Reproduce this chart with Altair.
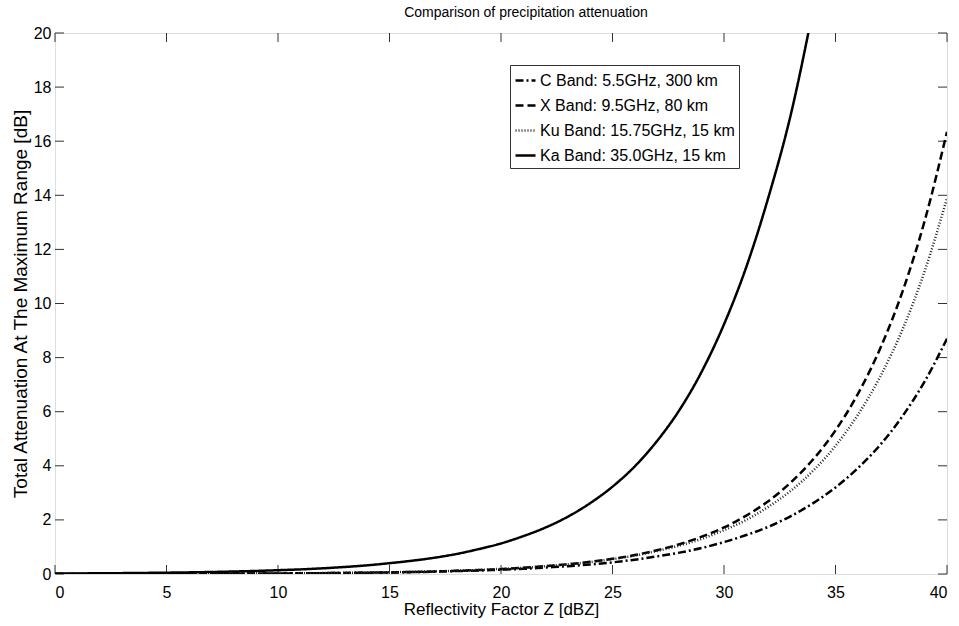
import altair as alt
import pandas as pd

bands = ["C Band: 5.5GHz, 300 km", "X Band: 9.5GHz, 80 km",
         "Ku Band: 15.75GHz, 15 km", "Ka Band: 35.0GHz, 15 km"]

dbz = list(range(0, 41))

c_band = [0.003, 0.0035, 0.004, 0.005, 0.006, 0.008, 0.009, 0.012, 0.014, 0.017,
          0.021, 0.026, 0.032, 0.039, 0.048, 0.058, 0.071, 0.087, 0.11, 0.13,
          0.16, 0.19, 0.24, 0.29, 0.35, 0.43, 0.53, 0.65, 0.79, 0.96,
          1.18, 1.44, 1.75, 2.14, 2.62, 3.20, 3.91, 4.77, 5.83, 7.12, 8.70]
x_band = [0.002, 0.002, 0.003, 0.003, 0.004, 0.005, 0.006, 0.008, 0.010, 0.015,
          0.019, 0.024, 0.030, 0.038, 0.047, 0.059, 0.074, 0.093, 0.116, 0.145,
          0.18, 0.23, 0.29, 0.36, 0.45, 0.56, 0.70, 0.88, 1.10, 1.38,
          1.72, 2.16, 2.70, 3.39, 4.24, 5.31, 6.65, 8.33, 10.43, 13.06, 16.35]
ku_band = [0.003, 0.003, 0.004, 0.005, 0.006, 0.007, 0.009, 0.011, 0.014, 0.017,
           0.021, 0.027, 0.033, 0.041, 0.051, 0.063, 0.078, 0.097, 0.12, 0.15,
           0.19, 0.23, 0.29, 0.36, 0.44, 0.55, 0.68, 0.85, 1.05, 1.30,
           1.62, 2.00, 2.49, 3.08, 3.82, 4.74, 5.88, 7.29, 9.03, 11.20, 13.89]
ka_band = [0.017, 0.021, 0.026, 0.032, 0.040, 0.049, 0.060, 0.074, 0.092, 0.113,
           0.14, 0.17, 0.21, 0.26, 0.32, 0.40, 0.49, 0.60, 0.74, 0.92,
           1.13, 1.40, 1.72, 2.12, 2.62, 3.23, 3.98, 4.92, 6.06, 7.48,
           9.23, 11.35, 13.95, 17.00, 20.90]

x_ticks = [0, 5, 10, 15, 20, 25, 30, 35, 40]
y_ticks = [0, 2, 4, 6, 8, 10, 12, 14, 16, 18, 20]

rows = []
for name, vals in zip(bands, [c_band, x_band, ku_band, ka_band]):
    for d, v in zip(dbz, vals):
        rows.append({"dBZ": d, "atten": v, "band": name})
df = pd.DataFrame(rows)
xt = pd.DataFrame({"dBZ": x_ticks})
yt = pd.DataFrame({"atten": y_ticks})

FONT = "Liberation Sans"
W, H = 892, 541

legend = alt.Legend(title=None, orient="none", legendX=455, legendY=32,
                    symbolType="stroke", symbolSize=400, labelFontSize=16,
                    labelFont=FONT, labelColor="black", strokeColor="#333",
                    fillColor="white", padding=4, rowPadding=5, labelOffset=3,
                    labelLimit=400, symbolStrokeColor="black")

xscale = alt.Scale(domain=[0, 40], nice=False, zero=False)
yscale = alt.Scale(domain=[0, 20], nice=False)

lines = alt.Chart(df).mark_line(clip=True, interpolate="monotone").encode(
    x=alt.X("dBZ:Q", scale=xscale,
            axis=alt.Axis(values=x_ticks, tickSize=0, domain=False, grid=False,
                          labelPadding=10, labelFontSize=16, labelFont=FONT,
                          labelColor="black", title="Reflectivity Factor Z [dBZ]",
                          titleFontSize=17, titleFont=FONT, titleFontWeight="normal",
                          titleColor="black", titlePadding=1)),
    y=alt.Y("atten:Q", scale=yscale,
            axis=alt.Axis(values=y_ticks, tickSize=0, domain=False, grid=False,
                          labelPadding=4, labelFontSize=16, labelFont=FONT,
                          labelColor="black",
                          title="Total Attenuation At The Maximum Range [dB]",
                          titleFontSize=19, titleFont=FONT, titleFontWeight="normal",
                          titleColor="black", titlePadding=3)),
    color=alt.Color("band:N", sort=bands,
                    scale=alt.Scale(domain=bands, range=["black", "black", "#222", "black"]),
                    legend=legend),
    strokeDash=alt.StrokeDash("band:N", sort=bands,
                              scale=alt.Scale(domain=bands,
                                              range=[[8, 3, 2, 3], [8, 4], [1, 2], [1, 0]]),
                              legend=legend),
    strokeWidth=alt.StrokeWidth("band:N", sort=bands,
                                scale=alt.Scale(domain=bands, range=[2.5, 2.5, 1, 2.5]),
                                legend=legend),
)

tick_color = "#333"
bottom = alt.Chart(xt).mark_rule(color=tick_color, strokeWidth=1).encode(
    x=alt.X("dBZ:Q", scale=xscale), y=alt.value(H), y2=alt.value(H - 9))
top = alt.Chart(xt).mark_rule(color=tick_color, strokeWidth=1).encode(
    x=alt.X("dBZ:Q", scale=xscale), y=alt.value(0), y2=alt.value(9))
left = alt.Chart(yt).mark_rule(color=tick_color, strokeWidth=1).encode(
    y=alt.Y("atten:Q", scale=yscale), x=alt.value(0), x2=alt.value(9))
right = alt.Chart(yt).mark_rule(color=tick_color, strokeWidth=1).encode(
    y=alt.Y("atten:Q", scale=yscale), x=alt.value(W), x2=alt.value(W - 9))

chart = alt.layer(bottom, top, left, right, lines).properties(
    width=W, height=H,
    title=alt.TitleParams("Comparison of precipitation attenuation", fontSize=14,
                          font=FONT, fontWeight="normal", color="black", offset=5,
                          dx=25),
    autosize=alt.AutoSizeParams(type="none"),
    padding={"left": 55, "top": 33, "right": 12, "bottom": 52},
).configure_view(stroke="#333", strokeWidth=1).configure(background="white")

chart.save("out.html", embed_options={"renderer": "svg", "actions": False})
